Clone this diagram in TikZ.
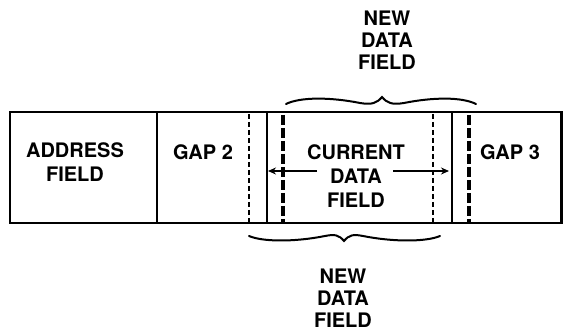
\documentclass[tikz,border=0pt]{standalone}
\usepackage{fontspec}
\setmainfont{TeX Gyre Heros}
\usetikzlibrary{arrows.meta}
\begin{document}
\begin{tikzpicture}[x=1pt,y=-1pt,
  lbl/.style={font=\bfseries\fontsize{20}{24}\selectfont, align=center, inner sep=0pt},
  lbln/.style={font=\bfseries\fontsize{20}{22}\selectfont, align=center, inner sep=0pt},
  solidln/.style={line width=2.3pt},
  thindash/.style={line width=1.8pt, dash pattern=on 5pt off 3pt},
  thickdash/.style={line width=3.2pt, dash pattern=on 10pt off 3pt},
  brc/.style={line width=2pt, line cap=round}]
\useasboundingbox (0,0) rectangle (563,331);
% outer frame
\draw[solidln] (563,112) -- (10,112) -- (10,223) -- (563,223);
\draw[solidln] (561.5,112) -- (561.5,223);
% separators
\draw[solidln] (157,112) -- (157,223);
\draw[solidln] (267,112) -- (267,223);
\draw[solidln] (452,112) -- (452,223);
\draw[thindash] (249,114) -- (249,223);
\draw[thindash] (433,114) -- (433,223);
\draw[thickdash] (283,115) -- (283,223);
\draw[thickdash] (469,115) -- (469,223);
% labels
\node[lbl] (addr) at (75,162.5) {ADDRESS\\FIELD};
\node[lbl] (gap2) at (203,152) {GAP 2};
\node[lbl] (gap3) at (510,152) {GAP 3};
\node[lbl] (cur) at (356,176) {CURRENT\\DATA\\FIELD};
\node[lbln] (newtop) at (387,40) {NEW\\DATA\\FIELD};
\node[lbln] (newbot) at (343,298.5) {NEW\\DATA\\FIELD};
% arrows
\coordinate (al) at (317,171);
\coordinate (ar) at (393,171);
\coordinate (atl) at (268,171);
\coordinate (atr) at (449,171);
\draw[line width=1.5pt,-{Stealth[length=8pt,width=7pt]}] (al) -- (atl);
\draw[line width=1.5pt,-{Stealth[length=8pt,width=7pt]}] (ar) -- (atr);
% top brace
\draw[brc] (286,104) .. controls (300,97) and (330,97) .. (360,103)
  .. controls (372,105) and (377,103) .. (382,97)
  .. controls (387,103) and (392,105) .. (404,103)
  .. controls (434,97) and (462,97) .. (476,104);
% bottom brace
\draw[brc] (249,236) .. controls (263,242) and (295,242) .. (325,236)
  .. controls (335,234) and (339,235) .. (344,241)
  .. controls (349,235) and (353,234) .. (363,236)
  .. controls (393,242) and (426,242) .. (440,236);
\end{tikzpicture}
\end{document}
